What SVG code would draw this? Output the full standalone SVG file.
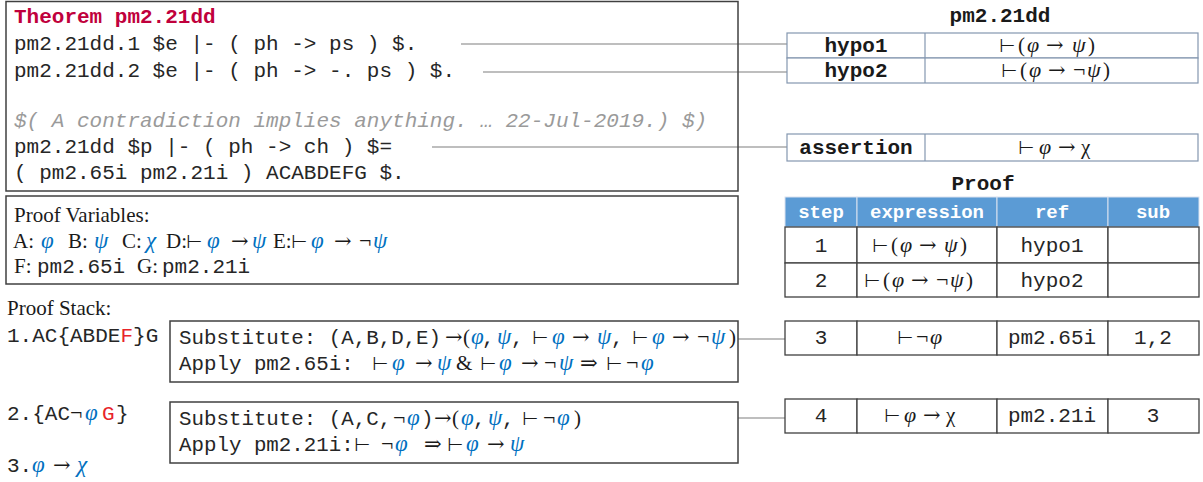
<svg xmlns="http://www.w3.org/2000/svg" width="1203" height="482" viewBox="0 0 1203 482">
<style>
.m{font-family:"Liberation Mono","DejaVu Sans Mono",monospace;font-size:21px;fill:#262626}
.mb{font-family:"Liberation Mono","DejaVu Sans Mono",monospace;font-size:21px;font-weight:bold;fill:#1a1a1a}
.ms{font-family:"Liberation Mono","DejaVu Sans Mono",monospace;font-size:20.8px;fill:#262626}
.s{font-family:"Liberation Serif","DejaVu Serif",serif;font-size:21px;fill:#1a1a1a}
.sym{font-family:"DejaVu Serif","Liberation Serif",serif;font-size:21px;fill:#1a1a1a}
.tk{font-family:"DejaVu Sans","DejaVu Serif",sans-serif;font-size:18.5px;fill:#1a1a1a}
.neg{font-family:"Liberation Serif","DejaVu Serif",serif;font-size:22px;fill:#1a1a1a}
.v{font-family:"Liberation Serif","DejaVu Serif",serif;font-size:23px;font-style:italic;fill:#0070c0}
.vk{font-family:"Liberation Serif","DejaVu Serif",serif;font-size:22px;font-style:italic;fill:#1a1a1a}
.red{fill:#e8242a}
.box{fill:none;stroke:#404040;stroke-width:1.5}
.hyp{fill:#fff;stroke:#8497b0;stroke-width:1.2}
.cell{fill:#fff;stroke:#404040;stroke-width:1.3}
.hdr{fill:#5b9bd5;stroke:#d9e2f0;stroke-width:1}
.ht{font-family:"Liberation Mono","DejaVu Sans Mono",monospace;font-size:19px;font-weight:bold;fill:#fff}
.con{stroke:#7f7f7f;stroke-width:1.2;fill:none}
.c{text-anchor:middle}
</style>

<g id="connectors">
<line class="con" x1="461" y1="44" x2="787" y2="44"/>
<line class="con" x1="483" y1="72" x2="787" y2="72"/>
<line class="con" x1="432" y1="147" x2="787" y2="147"/>
<line class="con" x1="738" y1="339" x2="785" y2="339"/>
<line class="con" x1="738" y1="418" x2="785" y2="418"/>
</g>

<g id="theorem">
<rect class="box" x="6" y="1.5" width="732" height="189.5"/>
<text x="14" y="23" class="mb" style="fill:#c0003c">Theorem pm2.21dd</text>
<text x="14" y="50" class="m">pm2.21dd.1 $e |- ( ph -&gt; ps ) $.</text>
<text x="14" y="77" class="m">pm2.21dd.2 $e |- ( ph -&gt; -. ps ) $.</text>
<text x="14" y="127" class="m" style="fill:#9a9a9a;font-style:italic">$( A contradiction implies anything. … 22-Jul-2019.) $)</text>
<text x="14" y="153" class="m">pm2.21dd $p |- ( ph -&gt; ch ) $=</text>
<text x="14" y="179" class="m">( pm2.65i pm2.21i ) ACABDEFG $.</text>
</g>

<g id="proof-variables">
<rect class="box" x="6" y="196" width="732" height="88"/>
<text x="14" y="222" class="s">Proof Variables:</text>
<text y="248" class="s"><tspan x="13">A:</tspan><tspan x="41" class="v">φ</tspan><tspan x="68">B:</tspan><tspan x="94" class="v">ψ</tspan><tspan x="122">C:</tspan><tspan x="146" class="v">χ</tspan><tspan x="166">D:</tspan><tspan x="186" class="tk">⊢</tspan><tspan x="207" class="v">φ</tspan><tspan x="231" class="sym">→</tspan><tspan x="252" class="v">ψ</tspan><tspan x="273">E:</tspan><tspan x="291" class="tk">⊢</tspan><tspan x="311" class="v">φ</tspan><tspan x="334" class="sym">→</tspan><tspan x="359" class="neg">¬</tspan><tspan x="373" class="v">ψ</tspan></text>
<text y="273" class="s"><tspan x="14">F:</tspan><tspan x="37" class="m">pm2.65i</tspan><tspan x="137">G:</tspan><tspan x="162" class="m">pm2.21i</tspan></text>
</g>

<g id="proof-stack">
<text x="7" y="315" class="s">Proof Stack:</text>
<text x="7" y="342" class="m">1.AC{ABDE<tspan class="red">F</tspan>}G</text>
<text y="420" class="m"><tspan x="7">2.{AC</tspan><tspan x="70" class="neg">¬</tspan><tspan x="85" class="v">φ</tspan><tspan x="102" class="red">G</tspan><tspan x="116">}</tspan></text>
<text y="472" class="m"><tspan x="7">3.</tspan><tspan x="32" class="v">φ</tspan><tspan x="53" class="sym">→</tspan><tspan x="77" class="v">χ</tspan></text>
</g>

<g id="step1">
<rect class="box" x="170" y="321" width="568" height="61"/>
<text y="344" class="ms"><tspan x="179">Substitute: (A,B,D,E)</tspan><tspan x="445" class="sym">→</tspan><tspan x="463" class="s">(</tspan><tspan x="471" class="v">φ</tspan><tspan x="482">,</tspan><tspan x="497" class="v">ψ</tspan><tspan x="511">,</tspan><tspan x="532" class="tk">⊢</tspan><tspan x="552" class="v">φ</tspan><tspan x="572" class="sym">→</tspan><tspan x="597" class="v">ψ</tspan><tspan x="611">,</tspan><tspan x="632" class="tk">⊢</tspan><tspan x="652" class="v">φ</tspan><tspan x="672" class="sym">→</tspan><tspan x="697" class="neg">¬</tspan><tspan x="711" class="v">ψ</tspan><tspan x="729" class="s">)</tspan></text>
<text y="370" class="ms"><tspan x="179">Apply pm2.65i:</tspan><tspan x="372" class="tk">⊢</tspan><tspan x="392" class="v">φ</tspan><tspan x="415" class="sym">→</tspan><tspan x="437" class="v">ψ</tspan><tspan x="456" class="s">&amp;</tspan><tspan x="480" class="tk">⊢</tspan><tspan x="499" class="v">φ</tspan><tspan x="521" class="sym">→</tspan><tspan x="544" class="neg">¬</tspan><tspan x="559" class="v">ψ</tspan><tspan x="580" class="sym">⇒</tspan><tspan x="606" class="tk">⊢</tspan><tspan x="626" class="neg">¬</tspan><tspan x="641" class="v">φ</tspan></text>
</g>

<g id="step2">
<rect class="box" x="170" y="402" width="568" height="61"/>
<text y="425" class="ms"><tspan x="179">Substitute: (A,C,</tspan><tspan x="393" class="neg">¬</tspan><tspan x="407" class="v">φ</tspan><tspan x="421">)</tspan><tspan x="434" class="sym">→</tspan><tspan x="452" class="s">(</tspan><tspan x="461" class="v">φ</tspan><tspan x="473">,</tspan><tspan x="488" class="v">ψ</tspan><tspan x="502">,</tspan><tspan x="522" class="tk">⊢</tspan><tspan x="543" class="neg">¬</tspan><tspan x="557" class="v">φ</tspan><tspan x="574" class="s">)</tspan></text>
<text y="451" class="ms"><tspan x="179">Apply pm2.21i:</tspan><tspan x="354" class="tk">⊢</tspan><tspan x="381" class="neg">¬</tspan><tspan x="395" class="v">φ</tspan><tspan x="424" class="sym">⇒</tspan><tspan x="447" class="tk">⊢</tspan><tspan x="466" class="v">φ</tspan><tspan x="487" class="sym">→</tspan><tspan x="510" class="v">ψ</tspan></text>
</g>

<g id="hypotheses">
<text x="1000" y="22" class="mb c">pm2.21dd</text>
<rect class="hyp" x="787" y="33" width="411" height="25"/>
<rect class="hyp" x="787" y="58" width="411" height="25"/>
<line x1="925" y1="33" x2="925" y2="83" stroke="#8497b0" stroke-width="1.2"/>
<text x="856" y="52" class="mb c">hypo1</text>
<text x="856" y="77" class="mb c">hypo2</text>
<text y="52" class="s"><tspan x="999" class="tk">⊢</tspan><tspan x="1018">(</tspan><tspan x="1027" class="vk">φ</tspan><tspan x="1046" class="sym">→</tspan><tspan x="1072" class="vk">ψ</tspan><tspan x="1088">)</tspan></text>
<text y="77" class="s"><tspan x="1001" class="tk">⊢</tspan><tspan x="1020">(</tspan><tspan x="1029" class="vk">φ</tspan><tspan x="1048" class="sym">→</tspan><tspan x="1073" class="neg">¬</tspan><tspan x="1087" class="vk">ψ</tspan><tspan x="1103">)</tspan></text>
</g>

<g id="assertion">
<rect class="hyp" x="787" y="134" width="411" height="27"/>
<line x1="925" y1="134" x2="925" y2="161" stroke="#8497b0" stroke-width="1.2"/>
<text x="856" y="154" class="mb c">assertion</text>
<text y="154" class="s"><tspan x="1018" class="tk">⊢</tspan><tspan x="1039" class="vk">φ</tspan><tspan x="1058" class="sym">→</tspan><tspan x="1081">χ</tspan></text>
</g>

<g id="proof-table">
<text x="983" y="190" class="mb c">Proof</text>
<rect class="hdr" x="785" y="197" width="72" height="30"/>
<rect class="hdr" x="857" y="197" width="140" height="30"/>
<rect class="hdr" x="997" y="197" width="111" height="30"/>
<rect class="hdr" x="1108" y="197" width="91" height="30"/>
<text x="821" y="218" class="ht c">step</text>
<text x="927" y="218" class="ht c">expression</text>
<text x="1052" y="218" class="ht c">ref</text>
<text x="1153" y="218" class="ht c">sub</text>
<rect class="cell" x="785" y="227" width="72" height="36"/>
<rect class="cell" x="857" y="227" width="140" height="36"/>
<rect class="cell" x="997" y="227" width="111" height="36"/>
<rect class="cell" x="1108" y="227" width="91" height="36"/>
<rect class="cell" x="785" y="263" width="72" height="34"/>
<rect class="cell" x="857" y="263" width="140" height="34"/>
<rect class="cell" x="997" y="263" width="111" height="34"/>
<rect class="cell" x="1108" y="263" width="91" height="34"/>
<text x="821" y="252" class="m c">1</text>
<text y="252" class="s"><tspan x="872" class="tk">⊢</tspan><tspan x="891">(</tspan><tspan x="900" class="vk">φ</tspan><tspan x="919" class="sym">→</tspan><tspan x="944" class="vk">ψ</tspan><tspan x="960">)</tspan></text>
<text x="1052" y="252" class="m c">hypo1</text>
<text x="821" y="287" class="m c">2</text>
<text y="287" class="s"><tspan x="864" class="tk">⊢</tspan><tspan x="883">(</tspan><tspan x="892" class="vk">φ</tspan><tspan x="911" class="sym">→</tspan><tspan x="936" class="neg">¬</tspan><tspan x="950" class="vk">ψ</tspan><tspan x="966">)</tspan></text>
<text x="1052" y="287" class="m c">hypo2</text>
</g>

<g id="row3">
<rect class="cell" x="785" y="321" width="72" height="34"/>
<rect class="cell" x="857" y="321" width="140" height="34"/>
<rect class="cell" x="997" y="321" width="111" height="34"/>
<rect class="cell" x="1108" y="321" width="91" height="34"/>
<text x="821" y="344" class="m c">3</text>
<text y="344" class="s"><tspan x="897" class="tk">⊢</tspan><tspan x="916" class="neg">¬</tspan><tspan x="930" class="vk">φ</tspan></text>
<text x="1052" y="344" class="m c">pm2.65i</text>
<text x="1153" y="344" class="m c">1,2</text>
</g>

<g id="row4">
<rect class="cell" x="785" y="399" width="72" height="34"/>
<rect class="cell" x="857" y="399" width="140" height="34"/>
<rect class="cell" x="997" y="399" width="111" height="34"/>
<rect class="cell" x="1108" y="399" width="91" height="34"/>
<text x="821" y="422" class="m c">4</text>
<text y="422" class="s"><tspan x="884" class="tk">⊢</tspan><tspan x="904" class="vk">φ</tspan><tspan x="923" class="sym">→</tspan><tspan x="946">χ</tspan></text>
<text x="1052" y="422" class="m c">pm2.21i</text>
<text x="1153" y="422" class="m c">3</text>
</g>
</svg>
